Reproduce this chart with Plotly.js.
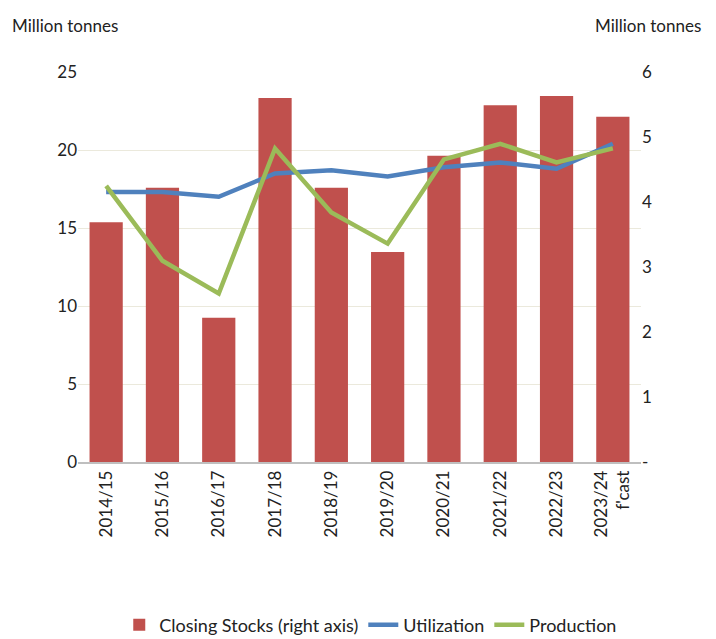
<!DOCTYPE html>
<html>
<head>
<meta charset="utf-8">
<script src="https://cdn.plot.ly/plotly-3.0.1.min.js"></script>
<style>
  body { margin: 0; background: #fff; }
  #chart { width: 716px; height: 639px; }
</style>
</head>
<body>
<div id="chart"></div>
<script>
const seasons = ['2014/15', '2015/16', '2016/17', '2017/18', '2018/19', '2019/20', '2020/21', '2021/22', '2022/23', "2023/24<br>f'cast"];
const closingStocks = [3.69, 4.22, 2.22, 5.6, 4.22, 3.23, 4.71, 5.49, 5.63, 5.31];
const utilization = [17.3, 17.3, 17.0, 18.5, 18.7, 18.3, 18.9, 19.2, 18.8, 20.4];
const production = [17.7, 12.9, 10.8, 20.1, 16.0, 14.0, 19.4, 20.4, 19.2, 20.1];
const rightTicks = [0, 1, 2, 3, 4, 5, 6];
const rightLabels = ['-', '1', '2', '3', '4', '5', '6'];

const font = { family: 'Lato, "Open Sans", sans-serif', size: 17, color: '#222' };

const data = [
  {
    x: seasons, y: closingStocks, type: 'bar', name: 'Closing Stocks (right axis)',
    marker: { color: '#C0504D' }, yaxis: 'y'
  },
  {
    x: seasons, y: utilization, type: 'scatter', mode: 'lines', name: 'Utilization',
    line: { color: '#4F81BD', width: 4.5 }, yaxis: 'y2'
  },
  {
    x: seasons, y: production, type: 'scatter', mode: 'lines', name: 'Production',
    line: { color: '#9BBB59', width: 4.5 }, yaxis: 'y2'
  }
];

const layout = {
  width: 716, height: 639,
  margin: { l: 78, r: 75, t: 72, b: 177, autoexpand: false },
  paper_bgcolor: '#fff', plot_bgcolor: '#fff',
  font: font,
  bargap: 0.41,
  showlegend: true,
  legend: {
    orientation: 'h', x: 0.52, xanchor: 'center', y: -0.418, yanchor: 'middle',
    font: { family: font.family, size: 18, color: '#222' }, traceorder: 'normal'
  },
  xaxis: {
    tickangle: -90, showgrid: false, showline: true, linecolor: '#bfbfbf', linewidth: 1.5,
    ticks: '', tickfont: font, automargin: false
  },
  yaxis: {
    side: 'right', range: [0, 6], tickvals: rightTicks, ticktext: rightLabels,
    showgrid: false, zeroline: false, ticks: '', tickfont: font, automargin: false
  },
  yaxis2: {
    overlaying: 'y', side: 'left', range: [0, 25], dtick: 5,
    showgrid: true, gridcolor: '#ebe9dc', gridwidth: 1, zeroline: false, ticks: '', tickfont: font, automargin: false
  },
  annotations: [
    { text: 'Million tonnes', xref: 'paper', yref: 'paper', x: -0.12, y: 1.12, xanchor: 'left', yanchor: 'middle', showarrow: false, font: font },
    { text: 'Million tonnes', xref: 'paper', yref: 'paper', x: 1.11, y: 1.12, xanchor: 'right', yanchor: 'middle', showarrow: false, font: font }
  ]
};

Plotly.newPlot('chart', data, layout, { displayModeBar: false });
</script>
</body>
</html>
